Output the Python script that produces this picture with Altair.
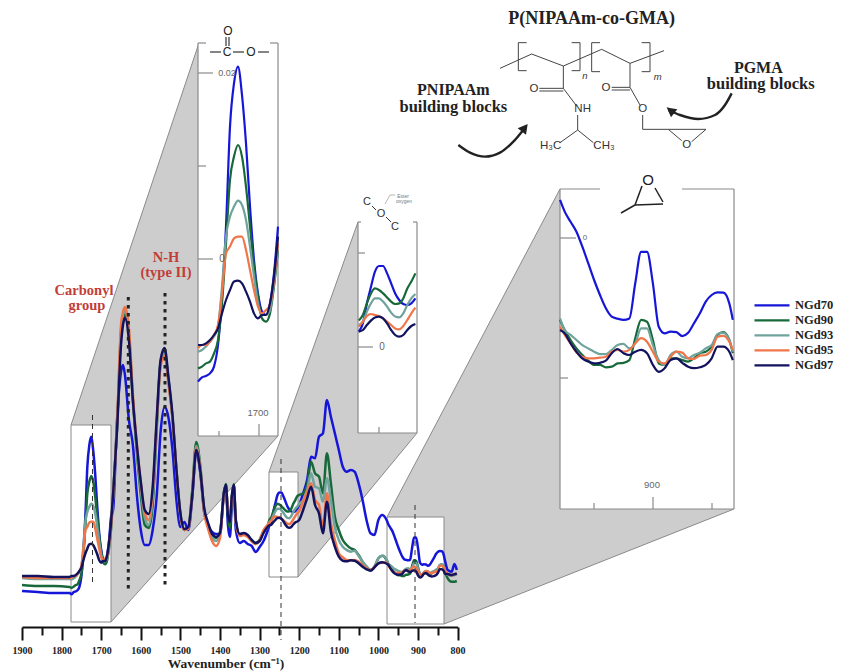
import altair as alt
import numpy as np
import pandas as pd

# ---------- spectra (one signal unit = 0.000215 absorbance) ----------
WN_BASE = [1900, 1860, 1820, 1780]
WN_C_O = list(range(1775, 1670, -5))
WN_AMIDE = [1670, 1660, 1650, 1645, 1640, 1630, 1620, 1610, 1600, 1590, 1580, 1570, 1560, 1550, 1540, 1530,
            1520, 1510, 1500, 1490, 1480, 1470, 1460, 1450, 1440, 1430, 1420, 1410, 1400, 1390, 1385, 1380,
            1375, 1370, 1365, 1360, 1350, 1340, 1330, 1320, 1310, 1300, 1290, 1280]
WN_ESTER = list(range(1275, 1200, -5))
WN_MID = [1200, 1190, 1180, 1170, 1160, 1150, 1140, 1130, 1120, 1110, 1100, 1090, 1080, 1070, 1060, 1050,
          1040, 1030, 1020, 1010, 1000, 990, 979]
WN_EPOXY = list(range(975, 830, -5)) + [832]
WN_TAIL = [825, 815, 808, 802]
WAVENUMBERS = WN_BASE + WN_C_O + WN_AMIDE + WN_ESTER + WN_MID + WN_EPOXY + WN_TAIL

NGD70 = [-58, -59, -60, -60,
         -61.3, -59.2, -58.5, -57.2, -53.8, -43, -18.8, 16.2, 66.2, 87.8, 96.2, 82, 57.8, 26.2, -0.5, -17.2, -26.3, -28, -22.2, -7.2, 16.2,
         23, 113, 161, 168, 158, 113, 88, 38, 3, -12, -12, 3, 36, 101, 126, 115, 83, 33, 6, 11, 3, 36, 81, 61, 21, 8, 1, -1, -1, 38, 43, 8, -4, 28, 41, 3, -10, -8, -11, -13, -19, -14, -8, 2,
         7.7, 11.8, 21.8, 30, 37.7, 40.5, 40.5, 36.8, 31.8, 26.8, 23.5, 21.5, 21, 21.8, 24.3,
         28, 39.7, 53, 76.3, 74.7, 96.3, 99.7, 133, 116.3, 99.7, 83, 66.3, 61.3, 63, 61.3, 49.7, 33, 13, -0.3, -2, 13, 18, 12.7,
         8.8, 5.4, 2.1, -2.9, -8.4, -14, -19, -23.4, -26.2, -26.9, -27.3, -26.8, -15.1, -4.6, -4.6, -15.1, -29.6, -31.8, -31.2, -31.4, -32.7, -31.6, -28.4, -25.1, -21.2, -19, -18.1, -18.2, -21.8, -27.3,
         -37, -38.7, -31, -37]
NGD90 = [-52, -53, -53, -54,
         -54.7, -53.8, -52.2, -51.3, -47.2, -40.5, -22.2, 7.8, 39.5, 51.2, 57, 51.2, 36.2, 16.2, -3.8, -18.8, -29.7, -31.3, -27.2, -13.8, 4.5,
         38, 105, 198, 213, 219, 198, 133, 81, 38, 8, 5, 28, 103, 171, 181, 153, 115, 63, 18, 3, 5, 43, 91, 68, 23, 8, -2, -5, 1, 41, 49, 17, 5, 36, 49, 11, -2, -1, -3, -7, -10, -7, 2, 7,
         13.2, 16, 21.8, 26.8, 29.3, 28.5, 26.8, 24.8, 22.7, 21.5, 21.8, 24.3, 29.3, 32.7, 36.8,
         38, 39.7, 48, 71.3, 59.7, 56.3, 39.7, 79.7, 49.7, 16.3, 3, -7, -12, -15.3, -17, -22, -28.7, -33.7, -37, -33.7, -25.3, -22.7, -27.3,
         -30.7, -34, -36.8, -39, -40.9, -42.3, -42.3, -43.1, -42.9, -41.8, -41.6, -40.7, -33.4, -27.3, -27.9, -34, -41.8, -42.3, -40.1, -40.1, -40.7, -41.2, -40.1, -38.4, -37.9, -36.2, -32.3, -31.4, -34, -38.4,
         -45.3, -48.7, -48.7, -48]
NGD93 = [-45, -46, -46, -46,
         -46.3, -45.5, -43.8, -41.3, -38.8, -33.8, -13.8, 11.2, 21.2, 26.2, 29.2, 27, 19.5, 6.2, -8.8, -22.2, -28, -28, -25.5, -12.2, 6.2,
         38, 108, 203, 218, 222, 201, 135, 85, 45, 15, 8, 36, 108, 169, 180, 151, 115, 63, 18, 3, 5, 41, 87, 66, 23, 7, -4, -8, -1, 40, 47, 21, 13, 36, 47, 11, -2, -1, -3, -8, -11, -8, 1, 6,
         11, 12.7, 17.7, 21.8, 24.3, 24.3, 22.7, 20.2, 17.2, 15.2, 14.8, 16.8, 21, 24.3, 26.5,
         29, 33, 43, 59.7, 46.3, 44.7, 31.3, 54.7, 33, 6.3, -7, -13.7, -17, -18.7, -17.7, -22.7, -28.7, -33.7, -37, -33.7, -25.3, -22.7, -26.8,
         -30.7, -32.3, -34, -35.7, -36.8, -37.9, -38.7, -38.7, -37.3, -35.7, -35.3, -36.8, -35.1, -30.1, -30.1, -35.7, -40.7, -42.3, -39, -37.9, -39.6, -40.1, -39, -38.2, -36.8, -35.7, -32, -31.6, -34, -37.9,
         -42, -43, -42, -41.3]
NGD95 = [-44, -45, -45, -45,
         -44.7, -43, -43, -41.3, -38, -33, -17.2, 2.8, 6.2, 10.3, 11.2, 11.2, 4.5, -5.5, -15.5, -23.8, -27.2, -25.5, -23, -10.5, 7.8,
         36, 109, 208, 221, 226, 205, 138, 89, 50, 20, 13, 40, 110, 167, 177, 149, 115, 63, 18, 3, 4, 39, 85, 65, 21, 4, -8, -13, -5, 39, 45, 23, 16, 35, 46, 11, -3, -2, -4, -8, -11, -7, 3, 8,
         10.2, 12.7, 15.5, 16.5, 16, 15.5, 14.3, 12.7, 11, 9.3, 8.8, 10.5, 13.5, 16.8, 19.7,
         22, 31.3, 41.3, 49.7, 33, 28, 6.3, 39.7, 9.7, -7, -20.3, -24.3, -27, -27.3, -27, -28.7, -32, -35.3, -37, -34.3, -30.3, -29.7, -29.5,
         -32.3, -35.1, -38.2, -39.6, -40.1, -40.1, -39.9, -39.6, -37.9, -37.3, -37.9, -37.3, -35.1, -33.4, -34.6, -37.9, -41.2, -41.8, -39.6, -37.9, -38.2, -40.1, -40.3, -39.2, -39, -37.3, -32.9, -32.6, -34.6, -37.3,
         -41, -42.3, -41, -41]
NGD97 = [-43, -43, -44, -44,
         -43, -43, -42.2, -40.5, -38, -34.7, -27.2, -20.5, -15.5, -11.3, -10.8, -12.2, -16.3, -21.3, -27.2, -29.7, -28, -28, -22.2, -8.8, 11.2,
         38, 103, 188, 208, 215, 193, 133, 88, 51, 23, 19, 46, 113, 173, 185, 155, 118, 63, 20, 4, 6, 38, 83, 63, 25, 10, -1, -4, 0, 41, 48, 18, 11, 38, 48, 13, -1, 0, -2, -7, -10, -8, 0, 6,
         7.7, 8.5, 11, 13.2, 14.8, 15.2, 14.3, 11.8, 8.5, 6, 5.2, 6, 8.5, 10.5, 11.5,
         13, 23, 34.7, 46.3, 28, 19.7, -0.3, 31.3, 1.3, -13.7, -23.7, -27.7, -28.3, -27.3, -27.7, -30.3, -33.7, -36.3, -37.7, -34.3, -30.3, -29.3, -30.7,
         -31.8, -35.1, -37.9, -40.1, -41.2, -41.8, -41.6, -40.9, -38.4, -37, -38.4, -39, -37.9, -37.3, -38.4, -42.3, -44.6, -43.4, -40.7, -40.1, -41.6, -42.9, -43.4, -43.1, -42.3, -40.1, -36.2, -36.2, -37.9, -40.7,
         -41, -42, -41.3, -40.3]

SAMPLES = ["NGd70", "NGd90", "NGd93", "NGd95", "NGd97"]
COLORS = ["#1616d8", "#17693a", "#6fa39c", "#f0764a", "#12125e"]
SERIES = [NGD70, NGD90, NGD93, NGD95, NGD97]

MAJOR_TICKS = list(range(1900, 700, -100))
MINOR_TICKS = list(range(1850, 750, -100))

spectra = pd.DataFrame(
    [{"wn": w, "signal": v, "sample": s, } for s, ser in zip(SAMPLES, SERIES) for w, v in zip(WAVENUMBERS, ser, strict=True)]
)

# ---------- page geometry ----------
W, H = 843, 671
M = 8
CHART_W, CHART_H = 827, 663
AXIS_OFFSET = 627 - (CHART_H + M)
FRAME = "#8a8a8a"
SERIF = "Liberation Serif"
SANS = "Liberation Sans"
PX = alt.Scale(domain=[0, W], range=[-M, W - M], nice=False, zero=False)
PY = alt.Scale(domain=[0, H], range=[-M, H - M], nice=False, zero=False)

color = alt.Color("sample:N", scale=alt.Scale(domain=SAMPLES, range=COLORS),
                  legend=alt.Legend(title=None, orient="none", legendX=745, legendY=290,
                                    symbolType="stroke", symbolSize=1225, symbolStrokeWidth=2.2, clipHeight=14.7,
                                    rowPadding=0, labelFont=SERIF, labelFontWeight="bold", labelFontSize=12.5,
                                    labelColor="#222", labelOffset=4))


def segments(segs, col="#000", width=1.0, dash=None):
    df = pd.DataFrame(segs, columns=["x", "y", "x2", "y2"])
    kw = {"strokeDash": dash} if dash else {}
    return alt.Chart(df).mark_rule(color=col, strokeWidth=width, **kw).encode(
        x=alt.X("x:Q", scale=PX, axis=None), x2="x2:Q",
        y=alt.Y("y:Q", scale=PY, axis=None), y2="y2:Q")


def polygon(top, bottom, fill):
    xs = sorted({p[0] for p in top} | {p[0] for p in bottom})
    t = np.interp(xs, [p[0] for p in top], [p[1] for p in top])
    b = np.interp(xs, [p[0] for p in bottom], [p[1] for p in bottom])
    df = pd.DataFrame({"x": xs, "t": t, "b": b})
    return alt.Chart(df).mark_area(color=fill, opacity=1).encode(
        x=alt.X("x:Q", scale=PX, axis=None),
        y=alt.Y("t:Q", scale=PY, axis=None), y2="b:Q")


def rect(x0, y0, x1, y1, stroke=None):
    df = pd.DataFrame([{"x": x0, "y": y0, "x2": x1, "y2": y1}])
    kw = {"stroke": stroke, "strokeWidth": 1} if stroke else {}
    return alt.Chart(df).mark_rect(color="white", **kw).encode(
        x=alt.X("x:Q", scale=PX, axis=None), x2="x2:Q",
        y=alt.Y("y:Q", scale=PY, axis=None), y2="y2:Q")


def text(x, y, s, size=10, col="#222", font=SERIF, weight="normal", style="normal", angle=0):
    df = pd.DataFrame([{"x": x, "y": y, "t": s}])
    return alt.Chart(df).mark_text(fontSize=size, color=col, font=font, fontWeight=weight, fontStyle=style,
                                   align="center", baseline="middle").encode(
        x=alt.X("x:Q", scale=PX, axis=None), y=alt.Y("y:Q", scale=PY, axis=None), text="t:N")


def zoom6(x, y):
    return (390 + x / 3, y / 3)


def zseg(points):
    pts = [zoom6(*p) for p in points]
    return [(a[0], a[1], b[0], b[1]) for a, b in zip(pts, pts[1:])]


def curve(points, width=2.4):
    pts = [zoom6(*p) for p in points]
    df = pd.DataFrame({"x": [p[0] for p in pts], "y": [p[1] for p in pts]})
    return alt.Chart(df).mark_line(color="#222", strokeWidth=width, interpolate="monotone").encode(
        x=alt.X("x:Q", scale=PX, axis=None), y=alt.Y("y:Q", scale=PY, axis=None))


def spectrum(df, xdom, xrange_, ydom, yrange_, sw, xaxis=None):
    return alt.Chart(df).mark_line(strokeWidth=sw, interpolate="monotone").encode(
        x=alt.X("wn:Q", scale=alt.Scale(domain=xdom, range=xrange_, nice=False, zero=False), axis=xaxis),
        y=alt.Y("signal:Q", scale=alt.Scale(domain=ydom, range=yrange_, nice=False, zero=False), axis=None),
        color=color)


layers = []

# wedges
layers += [
    polygon([(71, 425), (199, 43), (278, 43)], [(71, 622), (111, 622), (278, 436)], "#cdcdcd"),
    polygon([(269, 472), (358, 222), (417, 222)], [(269, 577), (298, 577), (417, 433)], "#cdcdcd"),
    polygon([(387, 517), (560, 189), (734, 189)], [(387, 624), (444, 624), (734, 509)], "#cdcdcd"),
    segments([(71, 425, 199, 43), (111, 622, 278, 436),
              (269, 472, 358, 222), (298, 577, 417, 433),
              (387, 517, 560, 189), (444, 624, 734, 509)], FRAME, 1),
]

# white panels
layers += [rect(198, 43, 278, 436), rect(358, 222, 417, 433), rect(560, 189, 734, 509),
           rect(71, 425, 111, 622, FRAME), rect(269, 472, 298, 577, FRAME), rect(387, 517, 444, 624, FRAME)]

# panel frames and ticks
layers.append(segments([
    (198, 43, 198, 436), (278, 43, 278, 436), (198, 436, 278, 436), (198, 43, 206, 43), (270, 43, 278, 43),
    (198, 73, 213, 73), (198, 166, 206, 166), (198, 259, 213, 259), (219, 431, 219, 436), (259, 424, 259, 436),
    (358, 222, 358, 433), (417, 222, 417, 433), (358, 433, 417, 433), (358, 222, 361, 222), (413, 222, 417, 222),
    (358, 253, 365, 253), (358, 347, 373, 347), (379, 427, 379, 433),
    (560, 189, 560, 509), (734, 189, 734, 509), (560, 509, 734, 509), (560, 189, 600, 189), (682, 189, 734, 189),
    (560, 238, 576, 238), (560, 378, 568, 378), (594, 503, 594, 509), (653, 497, 653, 509), (712, 503, 712, 509),
], FRAME, 1.2))

# main spectrum with axis
main_axis = alt.Axis(orient="bottom", values=MAJOR_TICKS, format="d", offset=AXIS_OFFSET, tickSize=13, tickWidth=2, tickColor="#111",
                     domainColor="#111", domainWidth=2, grid=False, labelFont=SERIF, labelFontWeight="bold",
                     labelFontSize=10, labelColor="#222", labelPadding=5, labelFlush=False, labelOverlap=False,
                     title="Wavenumber (cm⁻¹)", titleFont=SERIF, titleFontWeight="bold", titleFontSize=13.5,
                     titleColor="#222", titlePadding=0, titleX=217.5, titleY=36, titleAlign="center", titleBaseline="middle")
minor_axis = alt.Axis(orient="bottom", values=MINOR_TICKS, offset=AXIS_OFFSET, tickSize=8, tickWidth=2, tickColor="#111", domain=False,
                      labels=False, title=None, grid=False)
X_MAIN = dict(xdom=[1900, 800], xrange_=[22 - M, 457.6 - M])
Y_MAIN = dict(ydom=[-100, 300], yrange_=[633 - M, 233 - M])
layers.append(alt.Chart(spectra.head(2)).mark_line(opacity=0).encode(
    x=alt.X("wn:Q", scale=alt.Scale(domain=X_MAIN["xdom"], range=X_MAIN["xrange_"], nice=False, zero=False), axis=minor_axis),
    y=alt.Y("signal:Q", scale=alt.Scale(domain=Y_MAIN["ydom"], range=Y_MAIN["yrange_"], nice=False, zero=False), axis=None)))
layers.append(spectrum(spectra, sw=2.5, xaxis=main_axis, **X_MAIN, **Y_MAIN))

# zoomed panels: the same spectra through their own scales
layers.append(spectrum(spectra[spectra.wn.between(1675, 1775)], [1775, 1675], [198 - M, 278 - M],
                       [-88.5, 108], [436 - M, 43 - M], 2.2))
layers.append(spectrum(spectra[spectra.wn.between(1205, 1275)], [1276, 1203], [358 - M, 417 - M],
                       [-43, 62.5], [433 - M, 222 - M], 2.2))
layers.append(spectrum(spectra[spectra.wn.between(831, 979)], [979, 831], [560 - M, 734 - M],
                       [-90.33, 16.33], [509 - M, 189 - M], 2.2))

# guide lines
layers += [
    segments([(92.5, 415, 92.5, 585), (281, 459, 281, 640), (415, 505, 415, 623)], "#333", 1, [5, 4]),
    segments([(128.3, 297, 128.3, 590), (165, 293, 165, 585)], "#222", 3, [3.5, 4.5]),
]

# panel tick labels
GREY = "#666"
layers += [
    text(227, 73, "0.02", 9, GREY, SANS), text(222, 259, "0", 10, GREY, SANS), text(258, 413, "1700", 9.5, GREY, SANS),
    text(382, 347, "0", 10, GREY, SANS), text(585, 238, "0", 8, GREY, SANS), text(652, 485, "900", 9.5, GREY, SANS),
]

# group icons above panels
layers += [
    text(228, 31, "O", 12, "#222", SANS), text(227, 52, "C", 12, "#222", SANS), text(251, 52, "O", 12, "#222", SANS),
    segments([(226, 37, 226, 46), (229, 37, 229, 46), (210, 52, 221, 52), (233, 52, 244, 52), (258, 52, 269, 52)], "#222", 1.1),
    text(367, 202, "C", 11, "#333", SANS), text(381, 214, "O", 11, "#333", SANS), text(395, 227, "C", 11, "#333", SANS),
    segments([(372, 206, 376, 210), (386, 217, 391, 222)], "#333", 1),
    segments([(385, 204, 390, 195), (390, 195, 395, 195)], "#999", 0.7),
    text(403, 196, "Ester", 5, "#777", SANS), text(404, 201, "oxygen", 5, "#777", SANS),
    text(648, 180, "O", 15, "#222", SANS),
    segments([(642, 186, 635, 205), (655, 188, 663, 202), (635, 205, 663, 204), (635, 205, 621, 213)], "#222", 1.5),
]

# red annotations
RED = "#c23d38"
layers += [
    text(84, 291, "Carbonyl", 14.5, RED, SERIF, "bold"), text(87, 306, "group", 14.5, RED, SERIF, "bold"),
    text(166, 258, "N-H", 14.5, RED, SERIF, "bold"), text(166, 273, "(type II)", 14.5, RED, SERIF, "bold"),
]

# copolymer structure
BOND = "#444"
bonds = []
for path in [
    [(330, 205), (425, 162), (520, 198), (635, 148), (720, 190), (822, 152)],
    [(410, 128), (385, 128), (385, 212), (410, 212)],
    [(545, 128), (570, 128), (570, 212), (545, 212)],
    [(630, 128), (605, 128), (605, 215), (630, 215)],
    [(755, 128), (780, 128), (780, 215), (755, 215)],
    [(520, 198), (520, 265), (560, 318)],
    [(448, 265), (520, 265)], [(448, 273), (520, 273)],
    [(563, 345), (563, 390), (510, 428)], [(563, 390), (610, 428)],
    [(720, 190), (720, 262), (750, 315)],
    [(665, 262), (720, 262)], [(665, 270), (720, 270)],
    [(758, 345), (758, 388), (835, 388), (875, 422)],
    [(835, 388), (948, 388), (905, 425)],
]:
    bonds += zseg(path)
layers.append(segments(bonds, BOND, 1))


def ztext(zx, zy, s, size, **kw):
    x, y = zoom6(zx, zy)
    return text(x, y, s, size, **kw)


layers += [
    ztext(605, 58, "P(NIPAAm-co-GMA)", 18, col="#222", weight="bold"),
    ztext(190, 270, "PNIPAAm", 16, col="#222", weight="bold"),
    ztext(190, 321, "building blocks", 16.5, col="#222", weight="bold"),
    ztext(1105, 203, "PGMA", 16, col="#222", weight="bold"),
    ztext(1112, 253, "building blocks", 16.5, col="#222", weight="bold"),
    ztext(432, 268, "O", 11.5, col="#333", font=SANS),
    ztext(648, 265, "O", 11.5, col="#333", font=SANS),
    ztext(578, 328, "NH", 11.5, col="#333", font=SANS),
    ztext(758, 328, "O", 11.5, col="#333", font=SANS),
    ztext(890, 434, "O", 11.5, col="#333", font=SANS),
    ztext(482, 438, "H₃C", 11.5, col="#333", font=SANS),
    ztext(642, 438, "CH₃", 11.5, col="#333", font=SANS),
    ztext(585, 228, "n", 9.5, col="#333", font=SANS, style="italic"),
    ztext(803, 232, "m", 9.5, col="#333", font=SANS, style="italic"),
]

# curved arrows
layers += [
    curve([(205, 435), (240, 458), (285, 470), (330, 458), (370, 425), (398, 392)]),
    curve([(835, 330), (870, 345), (925, 357), (975, 345), (1005, 315), (1025, 280)]),
    polygon([zoom6(383, 385), zoom6(413, 372)], [zoom6(383, 385), zoom6(408, 404), zoom6(413, 372)], "#222"),
    polygon([zoom6(830, 322), zoom6(862, 328)], [zoom6(830, 322), zoom6(843, 352), zoom6(862, 328)], "#222"),
]

chart = alt.layer(*layers).resolve_scale(x="independent", y="independent").properties(
    width=CHART_W, height=CHART_H, padding=0, autosize=alt.AutoSizeParams(type="none"), background="white"
).configure_view(stroke=None)

chart.save("out.html", embed_options={"renderer": "svg", "actions": False})
